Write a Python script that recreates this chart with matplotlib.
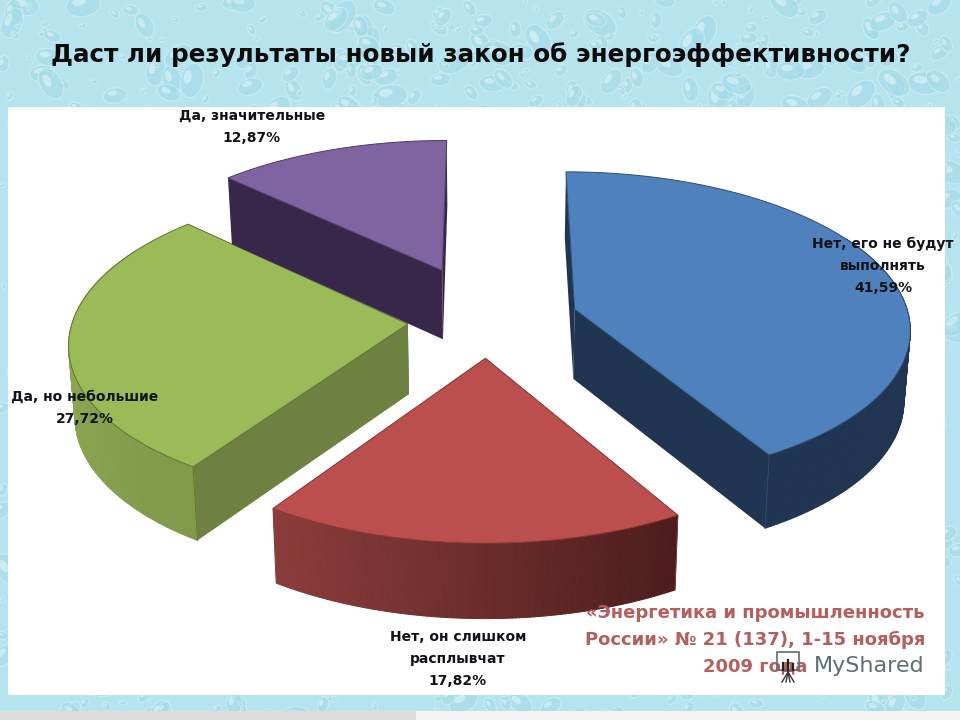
import numpy as np
import matplotlib
matplotlib.use("Agg")
import matplotlib.pyplot as plt
from matplotlib.collections import PolyCollection
from matplotlib.patches import Ellipse, Rectangle, Polygon

title = "Даст ли результаты новый закон об энергоэффективности?"
labels = ["Нет, его не будут\nвыполнять", "Нет, он слишком\nрасплывчат",
          "Да, но небольшие", "Да, значительные"]
values = [41.59, 17.82, 27.72, 12.87]
source = "«Энергетика и промышленность\nРоссии» № 21 (137), 1-15 ноября\n2009 года"

top_colors = ["#4f81bd", "#bb4f4d", "#9bbb59", "#8064a2"]
edge_colors = ["#2c4d75", "#8c3836", "#5f7530", "#4d3b62"]
cut_colors = ["#1f3552", "#7a3432", "#6e8140", "#37274a"]
arc_back = ["#1f3552", "#4c1d1c", "#8ca552", "#37274a"]
arc_front = ["#1f3552", "#8c3d3b", "#7a9346", "#37274a"]
explode = [0.27, 0.24, 0.24, 0.36]
label_pos = [(883, 266), (458, 659), (85, 408), (252, 127)]

# camera, fitted by eye
cx, cy = 488.0, 320.0
A, B, k = 335.0, 155.0, 0.112
depth = 70.0


def project(X, Y, low=False):
    w = 1 + k * Y
    x = cx + A * X / w
    y = cy - B * Y / w
    if low:
        x = cx + (x - cx) * 0.985
        y = y + depth / np.sqrt(w)
    return x, y


def mix(c1, c2, t):
    a = np.array(matplotlib.colors.to_rgb(c1))
    b = np.array(matplotlib.colors.to_rgb(c2))
    return tuple(a + (b - a) * t)


def scatter_hash(n, seed):
    # plain hash, only for placing the backdrop drops
    return (np.sin(n * 12.9898 + seed * 78.233) * 43758.5453) % 1


plt.rcParams["font.family"] = ["DejaVu Sans"]
fig = plt.figure(figsize=(9.6, 7.2), dpi=100)
ax = fig.add_axes([0, 0, 1, 1])
ax.set_xlim(0, 960)
ax.set_ylim(720, 0)
ax.axis("off")

# water drops backdrop
ax.add_patch(Rectangle((0, 0), 960, 720, fc="#b6e4ee", ec="none", zorder=0))
for i in range(1500):
    px = scatter_hash(i, 1) * 960
    py = scatter_hash(i, 2) * 720
    if 24 < px < 930 and 125 < py < 680:
        continue
    size = 6 + scatter_hash(i, 3) ** 2 * 30
    ang = scatter_hash(i, 4) * 180
    ax.add_patch(Ellipse((px, py), size, size * 0.65, angle=ang, fc="#a4dbe8", ec="#d6f2f7",
                         lw=0.8, alpha=0.6, zorder=1))
    ax.add_patch(Ellipse((px - size * 0.12, py - size * 0.1), size * 0.4, size * 0.22, angle=ang,
                         fc="#def4f8", ec="none", alpha=0.6, zorder=1))

ax.add_patch(Rectangle((8, 107), 937, 588, fc="white", ec="none", zorder=2))
ax.add_patch(Rectangle((0, 711), 960, 9, fc="#f3f3f3", ec="none", zorder=2))
ax.add_patch(Rectangle((0, 711), 416, 9, fc="#dcdcdc", ec="none", zorder=2))

# slices
start = 0.0
total = sum(values)
for i, v in enumerate(values):
    a0 = start
    a1 = start + v / total * 2 * np.pi
    start = a1
    mid = (a0 + a1) / 2
    ox, oy = explode[i] * np.sin(mid), explode[i] * np.cos(mid)
    th = np.linspace(a0, a1, 121)
    rimX = ox + np.sin(th)
    rimY = oy + np.cos(th)
    tx, ty = project(rimX, rimY)
    bx, by = project(rimX, rimY, low=True)
    apx, apy = project(ox, oy)
    apbx, apby = project(ox, oy, low=True)

    # cut walls go first, the hidden ones end up under the top anyway
    for e in (0, -1):
        ax.add_patch(Polygon([(apx, apy), (tx[e], ty[e]), (bx[e], by[e]), (apbx, apby)],
                             fc=cut_colors[i], ec="none", zorder=3 + i))

    # outer wall, the part that faces us plus a bit that the top hides
    front = np.where(np.cos(th) < 0.5)[0]
    if len(front) > 1:
        quads = []
        cols = []
        left = np.sin(th[front])
        for n, j in enumerate(front[:-1]):
            quads.append([(tx[j], ty[j]), (tx[j + 1], ty[j + 1]), (bx[j + 1], by[j + 1]), (bx[j], by[j])])
            if i == 1:
                t = (left[n] + 0.56) / 1.06
                cols.append(mix(arc_front[i], arc_back[i], t))
            else:
                cols.append(mix(arc_front[i], arc_back[i], min(1, abs(left[n]) ** 2)))
        ax.add_collection(PolyCollection(quads, facecolors=cols, edgecolors=cols, linewidths=0.7,
                                         zorder=3 + i))
        # corner line on the near end of the wall
        near = front[-1] if i == 0 else front[0]
        ax.plot([tx[near], bx[near]], [ty[near], by[near]], color=edge_colors[i], lw=0.6, zorder=3 + i)

    # top
    ax.add_patch(Polygon(list(zip(np.r_[apx, tx], np.r_[apy, ty])), fc=top_colors[i],
                         ec=edge_colors[i], lw=0.7, joinstyle="miter", zorder=3 + i))

    ax.text(label_pos[i][0], label_pos[i][1], labels[i] + "\n" + f"{v:.2f}".replace(".", ",") + "%",
            ha="center", va="center", fontsize=10.0, fontweight="bold", color="#101318",
            linespacing=1.75, zorder=12)

ax.text(481, 55, title, ha="center", va="center", fontsize=17.7, fontweight="bold", color="#0b0b0b", zorder=12)
ax.text(755, 640, source, ha="center", va="center", fontsize=13, fontweight="bold", color="#b55e5c",
        multialignment="center", linespacing=1.6, zorder=12)
ax.text(925, 666, "MyShared", ha="right", va="center", fontsize=16, color="#5f6f70", zorder=13)

# watermark icon
ax.add_patch(Rectangle((777, 652), 22, 18, fc="none", ec="#5f6f70", lw=1.2, zorder=13))
for dx, h in zip([-5, 0, 5], [7, 10, 6]):
    ax.plot([788 + dx, 788 + dx], [670, 670 - h], color="#222222", lw=1.6, zorder=13)
for dx in [-6, -2, 2, 6]:
    ax.plot([788, 788 + dx], [672, 682], color="#333333", lw=1.0, zorder=13)

fig.savefig("out.png", dpi=100)
